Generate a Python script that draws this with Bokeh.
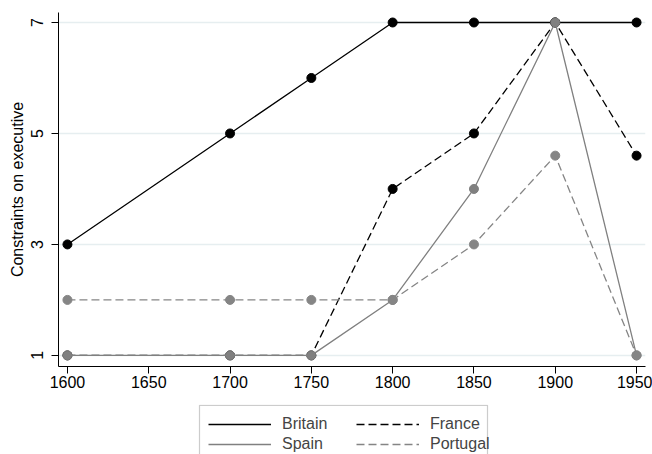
from bokeh.plotting import figure
from bokeh.models import Range1d, FixedTicker, Legend, LegendItem, BoxAnnotation
from bokeh.layouts import column
from bokeh.embed import file_html
from bokeh.resources import INLINE

years = [1600, 1700, 1750, 1800, 1850, 1900, 1950]
britain = [3, 5, 6, 7, 7, 7, 7]
france = [1, 1, 1, 4, 5, 7, 4.6]
spain = [1, 1, 1, 2, 4, 7, 1]
portugal = [2, 2, 2, 2, 3, 4.6, 1]
x_ticks = [1600, 1650, 1700, 1750, 1800, 1850, 1900, 1950]
y_ticks = [1, 3, 5, 7]

FONT = "Liberation Sans"
p = figure(width=652, height=404, output_backend="svg", toolbar_location=None,
           x_range=Range1d(1594.5, 1955.5), y_range=Range1d(0.8, 7.18),
           min_border_left=58, min_border_right=7, min_border_top=12, min_border_bottom=38)
p.outline_line_color = None
p.xgrid.grid_line_color = None
p.ygrid.grid_line_color = "#e6eef0"
p.ygrid.grid_line_width = 1.3
p.xaxis.ticker = FixedTicker(ticks=x_ticks)
p.yaxis.ticker = FixedTicker(ticks=y_ticks)
for ax in (p.xaxis[0], p.yaxis[0]):
    ax.minor_tick_line_color = None
    ax.major_tick_in = 0
    ax.major_tick_out = 7
    ax.axis_line_color = "black"
    ax.major_tick_line_color = "black"
    ax.major_label_text_font = FONT
    ax.major_label_text_font_size = "16px"
    ax.major_label_text_color = "black"
    ax.axis_label_text_font = FONT
    ax.axis_label_text_font_size = "16px"
    ax.axis_label_text_font_style = "normal"
    ax.axis_label_text_color = "black"
p.yaxis.major_label_orientation = "vertical"
p.yaxis.major_label_standoff = 8
p.yaxis.axis_label = "Constraints on executive"
p.yaxis.axis_label_standoff = 3
p.xaxis.major_label_standoff = 2

series = [
    ("Britain", britain, "black", "solid"),
    ("France", france, "black", "8 4"),
    ("Spain", spain, "#808080", "solid"),
    ("Portugal", portugal, "#858585", "8 4"),
]
for name, vals, col, dash in series:
    p.line(years, vals, line_color=col, line_width=1.3, line_dash=dash)
    p.scatter(years, vals, size=9, fill_color=col, line_color=col)

# legend strip below the chart; its frame is aligned with the main frame (x 58..645)
p2 = figure(width=652, height=50, output_backend="svg", toolbar_location=None,
            x_range=Range1d(58, 645), y_range=Range1d(50, 0),
            x_axis_location=None, y_axis_location=None,
            min_border=0, min_border_left=58, min_border_right=7,
            min_border_top=0, min_border_bottom=0)
p2.outline_line_color = None
p2.grid.grid_line_color = None
items = {}
for name, vals, col, dash in series:
    items[name] = p2.line(years, vals, line_color=col, line_width=1.3, line_dash=dash)

p2.add_layout(BoxAnnotation(left=199, right=487, top=0.8, bottom=80,
                            fill_alpha=0, line_color="#555555", line_width=1.2))
legend = Legend(items=[LegendItem(label=n, renderers=[items[n]]) for n in ["Britain", "France", "Spain", "Portugal"]],
                orientation="horizontal", ncols=2, location=(150, 0),
                glyph_width=63, glyph_height=16, label_standoff=11, padding=9, spacing=0,
                label_height=20, label_width=74,
                label_text_font=FONT, label_text_font_size="16px",
                border_line_color=None, background_fill_alpha=0)
p2.add_layout(legend, "center")

layout = column(p, p2, spacing=0)
open("out.html", "w").write(file_html(layout, INLINE))
